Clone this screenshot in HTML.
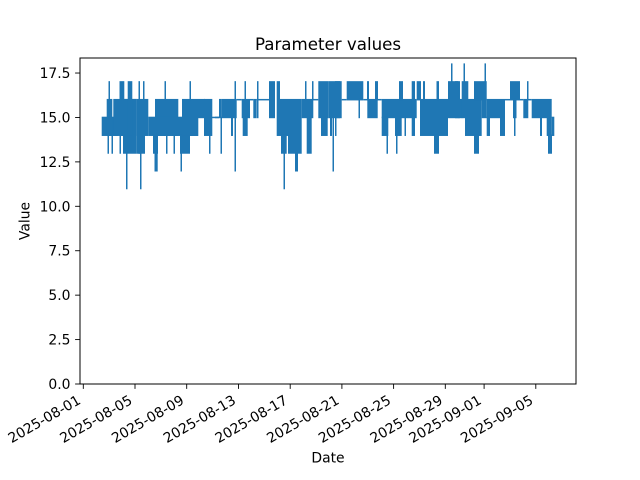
<!DOCTYPE html>
<html>
<head>
<meta charset="utf-8">
<style>
html,body{margin:0;padding:0;background:#fff;}
svg{display:block;}
text{font-family:"DejaVu Sans","Liberation Sans",sans-serif;fill:#000;}
</style>
</head>
<body>
<svg width="640" height="480" viewBox="0 0 640 480" xmlns="http://www.w3.org/2000/svg">
<rect x="0" y="0" width="640" height="480" fill="#fff"/>

<!-- data (value space: y in data units) -->
<g fill="#1f77b4" transform="matrix(1,0,0,-17.77,0,384)">
<!-- Region A -->
<rect x="101.7" y="13.958" width="16" height="1.084"/>
<rect x="106.7" y="13.958" width="5.6" height="2.084"/>
<rect x="108.5" y="13.958" width="1.5" height="3.084"/>
<rect x="107.5" y="12.958" width="1.5" height="1.084"/>
<rect x="111.5" y="12.958" width="1.5" height="1.084"/>
<rect x="113.3" y="13.958" width="23.4" height="2.084"/>
<rect x="119.5" y="12.958" width="1.5" height="4.084"/>
<rect x="121" y="13.958" width="3.3" height="3.084"/>
<rect x="123" y="12.958" width="13.7" height="3.084"/>
<rect x="126" y="10.958" width="1.5" height="2.084"/>
<rect x="127.7" y="13.958" width="4.6" height="3.084"/>
<rect x="138.5" y="12.958" width="1.5" height="4.084"/>
<rect x="143" y="13.958" width="1.5" height="3.084"/>
<rect x="140" y="10.958" width="1.5" height="2.084"/>
<rect x="136.7" y="12.958" width="8.3" height="3.084"/>
<rect x="145" y="13.958" width="3.3" height="2.084"/>
<rect x="148.3" y="13.958" width="11.7" height="1.084"/>
<rect x="153" y="12.958" width="5" height="1.084"/>
<rect x="154.5" y="11.958" width="3.2" height="1.084"/>
<rect x="155" y="13.958" width="23.3" height="2.084"/>
<rect x="164.5" y="15.958" width="1.5" height="1.084"/>
<rect x="160" y="13.958" width="38.3" height="1.084"/>
<rect x="166" y="12.958" width="1.5" height="1.084"/>
<rect x="173.5" y="12.958" width="1.5" height="1.084"/>
<rect x="180" y="12.958" width="10" height="1.084"/>
<rect x="180.5" y="11.958" width="1.5" height="1.084"/>
<rect x="182" y="13.958" width="16" height="2.084"/>
<rect x="189.5" y="15.958" width="1.5" height="1.084"/>
<rect x="198" y="14.958" width="7" height="1.084"/>
<rect x="204" y="13.958" width="8.3" height="2.084"/>
<rect x="209" y="12.958" width="1.5" height="1.084"/>
<rect x="212" y="14.958" width="7" height="0.084"/>
<!-- Region B -->
<rect x="215" y="14.958" width="4" height="0.084"/>
<rect x="219" y="14.958" width="2.7" height="1.084"/>
<rect x="220.5" y="12.958" width="1.5" height="2.084"/>
<rect x="221.7" y="14.958" width="15" height="1.084"/>
<rect x="231" y="13.958" width="2" height="1.084"/>
<rect x="234.5" y="11.958" width="1.5" height="5.084"/>
<rect x="236.7" y="15.958" width="5" height="0.084"/>
<rect x="241.7" y="14.958" width="8.3" height="1.084"/>
<rect x="242.7" y="13.958" width="5" height="1.084"/>
<rect x="244.5" y="15.958" width="1.5" height="1.084"/>
<rect x="250" y="15.958" width="3.3" height="0.084"/>
<rect x="253.3" y="14.958" width="3.4" height="1.084"/>
<rect x="257" y="14.958" width="1.5" height="2.084"/>
<rect x="256.7" y="15.958" width="12.3" height="0.084"/>
<rect x="269" y="14.958" width="6" height="2.084"/>
<rect x="276.7" y="13.958" width="3.3" height="3.084"/>
<rect x="280" y="13.958" width="8" height="2.084"/>
<rect x="281" y="12.958" width="5.7" height="1.084"/>
<rect x="283.5" y="10.958" width="1.5" height="2.084"/>
<rect x="288" y="12.958" width="13.7" height="3.084"/>
<rect x="295" y="11.958" width="3" height="1.084"/>
<rect x="301.7" y="14.958" width="11.6" height="1.084"/>
<rect x="306.7" y="12.958" width="5" height="2.084"/>
<rect x="305" y="15.958" width="1.5" height="1.084"/>
<rect x="312" y="15.958" width="1.5" height="1.084"/>
<rect x="313.3" y="15.958" width="5" height="0.084"/>
<rect x="318.3" y="14.958" width="10" height="2.084"/>
<rect x="321" y="13.958" width="6.7" height="1.084"/>
<rect x="328.3" y="14.958" width="11.7" height="2.084"/>
<rect x="332.5" y="11.958" width="1.5" height="3.084"/>
<rect x="330" y="13.958" width="2" height="1.084"/>
<!-- Region C -->
<rect x="335" y="14.958" width="6.7" height="2.084"/>
<rect x="335" y="13.958" width="1.5" height="1.084"/>
<rect x="341.7" y="15.958" width="5" height="0.084"/>
<rect x="346.7" y="15.958" width="16.6" height="1.084"/>
<rect x="358.5" y="14.958" width="1.5" height="1.084"/>
<rect x="363.3" y="15.958" width="4" height="0.084"/>
<rect x="367.3" y="14.958" width="10.4" height="1.084"/>
<rect x="367" y="15.958" width="2" height="1.084"/>
<rect x="375" y="15.958" width="3" height="1.084"/>
<rect x="377.7" y="15.958" width="4" height="0.084"/>
<rect x="381.7" y="14.958" width="35" height="1.084"/>
<rect x="381.7" y="13.958" width="6.6" height="1.084"/>
<rect x="386.5" y="12.958" width="1.5" height="1.084"/>
<rect x="395" y="13.958" width="6.7" height="1.084"/>
<rect x="396" y="12.958" width="1.5" height="1.084"/>
<rect x="399" y="15.958" width="4" height="1.084"/>
<rect x="404.5" y="13.958" width="1.5" height="1.084"/>
<rect x="411.7" y="13.958" width="3.3" height="3.084"/>
<rect x="416.7" y="15.958" width="4.3" height="1.084"/>
<rect x="420" y="13.958" width="28" height="2.084"/>
<rect x="434" y="12.958" width="5" height="1.084"/>
<rect x="423" y="15.958" width="2" height="1.084"/>
<rect x="436.5" y="15.958" width="2.5" height="1.084"/>
<rect x="448" y="14.958" width="12" height="2.084"/>
<rect x="451" y="16.958" width="1.5" height="1.084"/>
<!-- Region D -->
<rect x="455" y="14.958" width="3.3" height="2.084"/>
<rect x="458" y="14.958" width="4.3" height="1.084"/>
<rect x="461.7" y="14.958" width="6.6" height="2.084"/>
<rect x="463.5" y="16.958" width="1.5" height="1.084"/>
<rect x="465" y="13.958" width="16.7" height="2.084"/>
<rect x="474" y="12.958" width="5" height="1.084"/>
<rect x="474" y="15.958" width="12.7" height="1.084"/>
<rect x="484.5" y="16.958" width="1.5" height="1.084"/>
<rect x="481.7" y="14.958" width="5" height="1.084"/>
<rect x="486.7" y="14.958" width="18.3" height="1.084"/>
<rect x="486.7" y="13.958" width="3.3" height="1.084"/>
<rect x="500" y="13.958" width="5" height="1.084"/>
<rect x="505" y="15.958" width="5" height="0.084"/>
<rect x="510" y="15.958" width="10" height="1.084"/>
<rect x="513" y="14.958" width="3.5" height="1.084"/>
<rect x="514" y="13.958" width="1.5" height="1.084"/>
<rect x="520" y="15.958" width="3.3" height="0.084"/>
<rect x="523.3" y="14.958" width="5" height="1.084"/>
<rect x="527" y="15.958" width="1.5" height="1.084"/>
<rect x="528.3" y="15.958" width="3.4" height="0.084"/>
<rect x="531.7" y="14.958" width="20" height="1.084"/>
<rect x="540" y="13.958" width="2" height="1.084"/>
<rect x="546.7" y="13.958" width="5" height="1.084"/>
<rect x="548" y="12.958" width="4" height="1.084"/>
<rect x="551.7" y="13.958" width="2.6" height="1.084"/>
</g>

<!-- axes frame -->
<rect x="80" y="58" width="496" height="326" fill="none" stroke="#000" stroke-width="1" shape-rendering="crispEdges"/>

<!-- y ticks -->
<g stroke="#000" stroke-width="0.9">
<line x1="75.1" y1="384" x2="80" y2="384"/>
<line x1="75.1" y1="339.58" x2="80" y2="339.58"/>
<line x1="75.1" y1="295.15" x2="80" y2="295.15"/>
<line x1="75.1" y1="250.73" x2="80" y2="250.73"/>
<line x1="75.1" y1="206.3" x2="80" y2="206.3"/>
<line x1="75.1" y1="161.88" x2="80" y2="161.88"/>
<line x1="75.1" y1="117.45" x2="80" y2="117.45"/>
<line x1="75.1" y1="73.03" x2="80" y2="73.03"/>
</g>
<g font-size="13.9" text-anchor="end">
<text x="70.5" y="389">0.0</text>
<text x="70.5" y="344.6">2.5</text>
<text x="70.5" y="300.2">5.0</text>
<text x="70.5" y="255.7">7.5</text>
<text x="70.5" y="211.3">10.0</text>
<text x="70.5" y="166.9">12.5</text>
<text x="70.5" y="122.5">15.0</text>
<text x="70.5" y="78">17.5</text>
</g>

<!-- x ticks -->
<g stroke="#000" stroke-width="0.9">
<line x1="83.3" y1="384" x2="83.3" y2="388.9"/>
<line x1="135" y1="384" x2="135" y2="388.9"/>
<line x1="186.7" y1="384" x2="186.7" y2="388.9"/>
<line x1="238.5" y1="384" x2="238.5" y2="388.9"/>
<line x1="290.2" y1="384" x2="290.2" y2="388.9"/>
<line x1="341.9" y1="384" x2="341.9" y2="388.9"/>
<line x1="393.6" y1="384" x2="393.6" y2="388.9"/>
<line x1="445.3" y1="384" x2="445.3" y2="388.9"/>
<line x1="484.1" y1="384" x2="484.1" y2="388.9"/>
<line x1="535.8" y1="384" x2="535.8" y2="388.9"/>
</g>
<g font-size="13.9" text-anchor="end">
<text transform="translate(81.6,403) rotate(-30)">2025-08-01</text>
<text transform="translate(133.3,403) rotate(-30)">2025-08-05</text>
<text transform="translate(185,403) rotate(-30)">2025-08-09</text>
<text transform="translate(236.8,403) rotate(-30)">2025-08-13</text>
<text transform="translate(288.5,403) rotate(-30)">2025-08-17</text>
<text transform="translate(340.2,403) rotate(-30)">2025-08-21</text>
<text transform="translate(391.9,403) rotate(-30)">2025-08-25</text>
<text transform="translate(443.6,403) rotate(-30)">2025-08-29</text>
<text transform="translate(482.4,403) rotate(-30)">2025-09-01</text>
<text transform="translate(534.1,403) rotate(-30)">2025-09-05</text>
</g>

<!-- labels -->
<text x="328" y="462.3" font-size="13.9" text-anchor="middle">Date</text>
<text transform="translate(29.4,221) rotate(-90)" font-size="13.9" text-anchor="middle">Value</text>
<text x="328" y="50" font-size="16.67" text-anchor="middle">Parameter values</text>
</svg>
</body>
</html>
